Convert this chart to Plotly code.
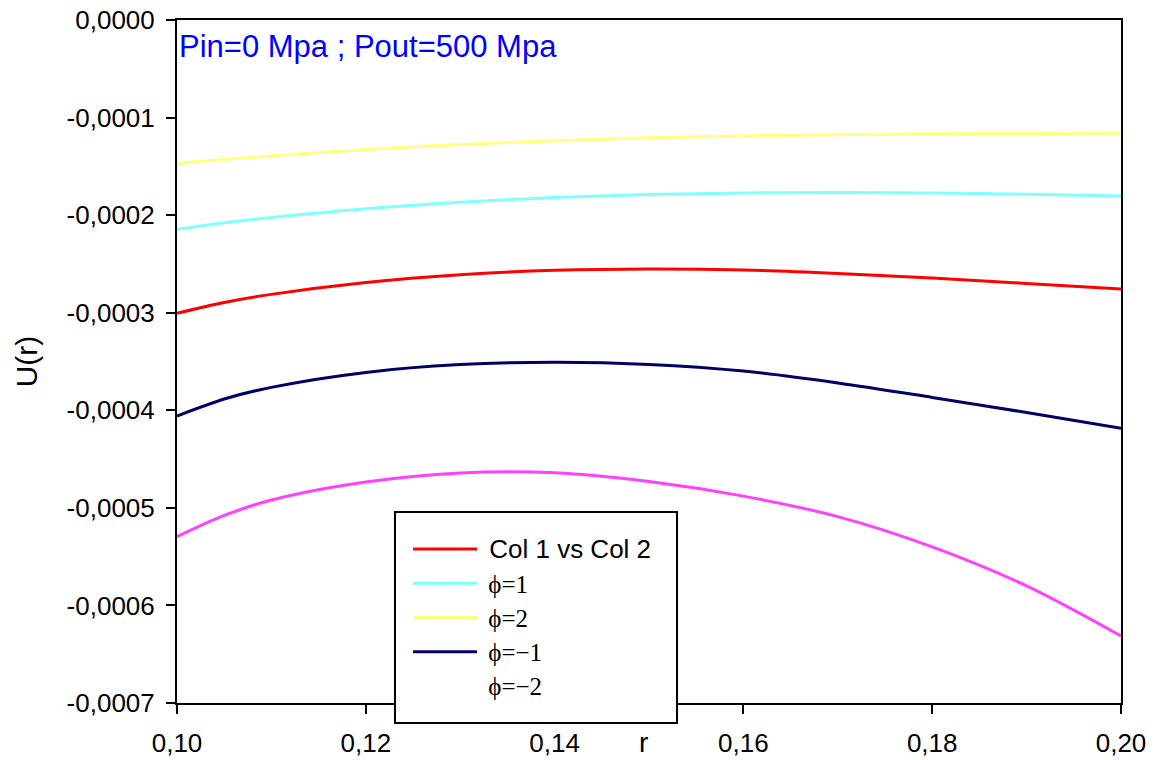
import plotly.graph_objects as go

# ---- data ----
r = [0.10, 0.105, 0.11, 0.12, 0.13, 0.14, 0.15, 0.16, 0.17, 0.18, 0.19, 0.20]

u_col = [-0.0003006, -0.0002895, -0.0002812, -0.0002690, -0.0002610, -0.0002566,
         -0.0002552, -0.0002562, -0.0002597, -0.0002645, -0.0002700, -0.0002757]
u_phi1 = [-0.0002146, -0.0002077, -0.0002025, -0.0001935, -0.0001868, -0.0001820,
          -0.0001789, -0.0001773, -0.0001768, -0.0001773, -0.0001786, -0.0001804]
u_phi2 = [-0.0001470, -0.0001429, -0.0001392, -0.0001327, -0.0001276, -0.0001237,
          -0.0001208, -0.0001188, -0.0001175, -0.0001167, -0.0001162, -0.0001160]
u_phim1 = [-0.0004059, -0.0003884, -0.0003765, -0.0003612, -0.0003532, -0.0003508,
           -0.0003530, -0.0003598, -0.0003720, -0.0003868, -0.0004023, -0.0004185]
u_phim2 = [-0.0005296, -0.0005078, -0.0004920, -0.0004735, -0.0004642, -0.0004640,
           -0.0004730, -0.0004880, -0.0005090, -0.0005400, -0.0005800, -0.0006313]

x_tickvals = [0.10, 0.12, 0.14, 0.16, 0.18, 0.20]
x_ticktext = ["0,10", "0,12", "0,14", "0,16", "0,18", "0,20"]
y_tickvals = [0.0, -0.0001, -0.0002, -0.0003, -0.0004, -0.0005, -0.0006, -0.0007]
y_ticktext = ["0,0000", "-0,0001", "-0,0002", "-0,0003", "-0,0004", "-0,0005",
              "-0,0006", "-0,0007"]

names = ["Col 1 vs Col 2", "ϕ=1", "ϕ=2", "ϕ=−1", "ϕ=−2"]

PHI = ('<span style="font-family:\'Times New Roman\', \'Liberation Serif\', serif; '
       'font-size:25px">\u00a0{}</span>')
SANS = '<span style="font-size:26px">\u00a0{}</span>'

fig = go.Figure()

series = [
    (u_col, "#FF0000", names[0], False),
    (u_phi1, "#80FFFF", names[1], True),
    (u_phi2, "#FFFF80", names[2], True),
    (u_phim1, "#000066", names[3], True),
]
for i, (ys, col, nm, serif) in enumerate(series):
    fig.add_trace(go.Scatter(
        x=r, y=ys, mode="lines", name=(PHI if serif else SANS).format(nm),
        line=dict(color=col, width=3, shape="spline", smoothing=0.9),
        legendrank=i + 1,
    ))

# phi = -2 curve (its legend sample is not drawn in the reference)
fig.add_trace(go.Scatter(
    x=r, y=u_phim2, mode="lines", name=names[4], showlegend=False,
    line=dict(color="#FF40FF", width=3, shape="spline", smoothing=0.9),
))
fig.add_trace(go.Scatter(
    x=[None], y=[None], mode="lines", name=PHI.format(names[4]),
    line=dict(color="rgba(0,0,0,0)", width=3),
    legendrank=5,
))

# pixel helpers for the legend frame (paper coordinates)
L, R, T, B = 177, 1121, 20, 703
def px_x(p):
    return (p - L) / (R - L)
def px_y(p):
    return (B - p) / (B - T)

fig.update_layout(
    width=1154, height=760,
    margin=dict(l=177, r=33, t=20, b=57, autoexpand=False),
    paper_bgcolor="white", plot_bgcolor="white",
    font=dict(family="Arial, 'Liberation Sans', sans-serif", color="black", size=26),
    showlegend=True,
    legend=dict(
        x=px_x(408), y=px_y(527), xanchor="left", yanchor="top",
        bgcolor="rgba(0,0,0,0)", borderwidth=0,
        font=dict(size=24, color="black"),
        itemwidth=64,
    ),
    shapes=[
        dict(type="rect", xref="paper", yref="paper", layer="above",
             x0=px_x(395), x1=px_x(677), y0=px_y(723), y1=px_y(512),
             fillcolor="white", line=dict(color="black", width=2)),
    ],
    xaxis=dict(
        range=[0.10, 0.20], tickvals=x_tickvals, ticktext=x_ticktext,
        showgrid=False, zeroline=False,
        showline=True, linecolor="black", linewidth=2, mirror=True,
        ticks="outside", ticklen=9, tickwidth=2, tickcolor="black",
        tickfont=dict(size=26), ticklabelstandoff=7,
    ),
    yaxis=dict(
        range=[-0.0007, 0.0], tickvals=y_tickvals, ticktext=y_ticktext,
        showgrid=False, zeroline=False,
        showline=True, linecolor="black", linewidth=2, mirror=True,
        ticks="outside", ticklen=9, tickwidth=2, tickcolor="black",
        tickfont=dict(size=26), ticklabelstandoff=6,
        title=dict(text="U(r)", font=dict(size=30), standoff=20),
    ),
    annotations=[
        dict(text="Pin=0 Mpa ; Pout=500 Mpa", xref="paper", yref="paper",
             x=0.0, y=px_y(47), xanchor="left", yanchor="middle", showarrow=False,
             font=dict(size=31, color="#0000FF")),
        dict(text="r", xref="paper", yref="paper", x=px_x(643), y=px_y(742),
             xanchor="center", yanchor="middle", showarrow=False,
             font=dict(size=28, color="black")),
    ],
)

fig.write_html("out.html")
